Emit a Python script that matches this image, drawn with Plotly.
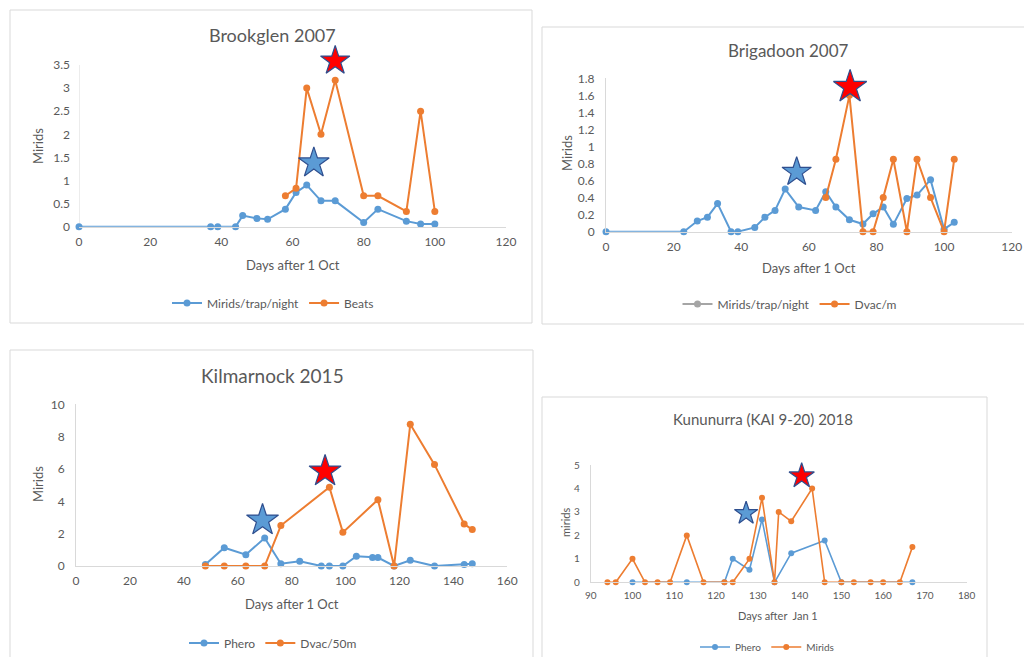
import plotly.graph_objects as go

W, H = 1024, 657

BLUE = "#5B9BD5"
ORANGE = "#ED7D31"
GRAY = "#A5A5A5"
RED = "#FF0000"
STAR_EDGE = "#2F4F8F"
TEXT = "#595959"
AXIS = "#D9D9D9"
FONT = "Lato"

# ---- Brookglen 2007 ----
bg_trap_days = [0, 37, 39, 44, 46, 50, 53, 58, 61, 64, 68, 72, 80, 84, 92, 96, 100]
bg_trap = [0, 0, 0, 0, 0.24, 0.18, 0.16, 0.38, 0.74, 0.90, 0.56, 0.56, 0.09, 0.38, 0.12, 0.06, 0.06]
bg_beat_days = [58, 61, 64, 68, 72, 80, 84, 92, 96, 100]
bg_beats = [0.67, 0.83, 3.0, 2.0, 3.17, 0.67, 0.67, 0.33, 2.5, 0.33]
bg_star_days = [66, 72]
bg_star_vals = [1.38, 3.59]

# ---- Brigadoon 2007 ----
bd_trap_days = [0, 23, 27, 30, 33, 37, 39, 44, 47, 50, 53, 57, 62, 65, 68, 72, 76, 79, 82, 85,
                89, 92, 96, 100, 103]
bd_trap = [0, 0, 0.125, 0.17, 0.33, 0, 0, 0.05, 0.17, 0.25, 0.5, 0.29, 0.25, 0.47, 0.29, 0.14,
           0.09, 0.21, 0.29, 0.086, 0.39, 0.43, 0.61, 0.03, 0.11]
bd_dvac_days = [65, 68, 72, 76, 79, 82, 85, 89, 92, 96, 100, 103]
bd_dvac = [0.4, 0.85, 1.6, 0, 0, 0.4, 0.85, 0, 0.85, 0.4, 0, 0.85]
bd_star_days = [56.4, 72.2]
bd_star_vals = [0.70, 1.70]

# ---- Kilmarnock 2015 ----
km_phero_days = [48, 55, 63, 70, 76, 83, 91, 94, 99, 104, 110, 112, 118, 124, 133, 144, 147]
km_phero = [0.1, 1.13, 0.7, 1.73, 0.14, 0.29, 0, 0, 0, 0.6, 0.52, 0.52, 0, 0.35, 0, 0.1, 0.14]
km_dvac_days = [48, 55, 63, 70, 76, 94, 99, 112, 118, 124, 133, 144, 147]
km_dvac = [0, 0, 0, 0, 2.5, 4.87, 2.08, 4.1, 0, 8.76, 6.27, 2.6, 2.25]
km_star_days = [69.2, 92.4]
km_star_vals = [2.83, 5.86]

# ---- Kununurra (KAI 9-20) 2018 ----
kn_phero_days = [100, 113, 122, 124, 128, 131, 134, 138, 146, 150, 167]
kn_phero = [0, 0, 0, 1.0, 0.53, 2.68, 0, 1.24, 1.78, 0, 0]
kn_mirid_days = [94, 96, 100, 103, 106, 109, 113, 117, 122, 124, 128, 131, 134, 135, 138, 143,
                 146, 150, 153, 157, 160, 164, 167]
kn_mirids = [0, 0, 1, 0, 0, 0, 2, 0, 0, 0, 1, 3.6, 0, 3.0, 2.6, 4.0, 0, 0, 0, 0, 0, 0, 1.5]
kn_star_days = [127.2, 140.5]
kn_star_vals = [2.94, 4.53]


def px_x(p):
    return p / W


def px_y(p):
    return 1 - p / H


fig = go.Figure()


def line_trace(x, y, color, name, idx, legend, showlegend=True, msize=7, lw=2):
    sfx = "" if idx == 1 else str(idx)
    fig.add_trace(go.Scatter(
        x=x, y=y, mode="lines+markers", name=name,
        line=dict(color=color, width=lw),
        marker=dict(color=color, size=msize),
        xaxis="x" + sfx, yaxis="y" + sfx,
        legend=legend, showlegend=showlegend, cliponaxis=False,
    ))


def star_trace(x, y, idx, sizes):
    sfx = "" if idx == 1 else str(idx)
    fig.add_trace(go.Scatter(
        x=x, y=y, mode="markers", showlegend=False,
        marker=dict(symbol="star", size=sizes, color=[BLUE, RED], opacity=1,
                    line=dict(color=STAR_EDGE, width=1.2)),
        xaxis="x" + sfx, yaxis="y" + sfx, cliponaxis=False,
    ))


# panel 1
line_trace(bg_trap_days, bg_trap, BLUE, "Mirids/trap/night", 1, "legend")
line_trace(bg_beat_days, bg_beats, ORANGE, "Beats", 1, "legend")
star_trace(bg_star_days, bg_star_vals, 1, [23, 22])

# panel 2 (legend entry for trap series is drawn in gray)
line_trace(bd_trap_days, bd_trap, BLUE, "Mirids/trap/night", 2, "legend2", showlegend=False)
fig.add_trace(go.Scatter(x=[None], y=[None], mode="lines+markers", name="Mirids/trap/night",
                         line=dict(color=GRAY, width=2), marker=dict(color=GRAY, size=7),
                         xaxis="x2", yaxis="y2", legend="legend2"))
line_trace(bd_dvac_days, bd_dvac, ORANGE, "Dvac/m", 2, "legend2")
star_trace(bd_star_days, bd_star_vals, 2, [22, 25])

# panel 3
line_trace(km_phero_days, km_phero, BLUE, "Phero", 3, "legend3")
line_trace(km_dvac_days, km_dvac, ORANGE, "Dvac/50m", 3, "legend3")
star_trace(km_star_days, km_star_vals, 3, [24, 24])

# panel 4
line_trace(kn_phero_days, kn_phero, BLUE, "Phero", 4, "legend4", msize=6, lw=1.6)
line_trace(kn_mirid_days, kn_mirids, ORANGE, "Mirids", 4, "legend4", msize=6, lw=1.6)
star_trace(kn_star_days, kn_star_vals, 4, [17.5, 19])


def axes(idx, x0, x1, xr, xd, y0, y1, yr, yd, fsize=12, yline=True):
    sfx = "" if idx == 1 else str(idx)
    common = dict(showgrid=False, zeroline=False, linecolor=AXIS, linewidth=1, automargin=False,
                  ticks="", tickfont=dict(family=FONT, size=fsize, color=TEXT), fixedrange=True)
    fig.update_layout(**{
        "xaxis" + sfx: dict(domain=[px_x(x0), px_x(x1)], range=xr, dtick=xd, tick0=xr[0],
                            anchor="y" + sfx, ticklabelstandoff=4, showline=True, **common),
        "yaxis" + sfx: dict(domain=[px_y(y0), px_y(y1)], range=yr, dtick=yd, tick0=0,
                            anchor="x" + sfx, ticklabelstandoff=8, showline=yline, **common),
    })


# Brookglen: value axis runs a little above 3.5 so the top star stays visible
axes(1, 79, 506, [0, 120], 20, 226.7, 226.7 - 3.75 * (161.7 / 3.5), [0, 3.75], 0.5, yline=False)
axes(2, 606, 1011.7, [0, 120], 20, 231.7, 78.3, [0, 1.8], 0.2)
axes(3, 76, 507.3, [0, 160], 20, 566, 404.3, [0, 10], 2)
axes(4, 590.7, 966.7, [90, 180], 10, 582.3, 465, [0, 5], 1, fsize=10)

# panel frames
frames = [(10, 532, 10, 323), (542, 1040, 27, 324), (10, 533, 350, 680), (542, 987, 397, 680)]
shapes = []
for x0, x1, y0, y1 in frames:
    shapes.append(dict(type="rect", xref="paper", yref="paper",
                       x0=px_x(x0), x1=px_x(x1), y0=px_y(y1), y1=px_y(y0),
                       line=dict(color=AXIS, width=1), fillcolor="rgba(0,0,0,0)", layer="below"))
# Brookglen value-axis line, ending at the top tick
shapes.append(dict(type="line", xref="x", yref="y", x0=0, x1=0, y0=0, y1=3.5,
                   line=dict(color=AXIS, width=1), layer="below"))

annotations = []


def label(text, x, y, size, angle=0):
    annotations.append(dict(text=text, x=px_x(x), y=px_y(y), xref="paper", yref="paper",
                            showarrow=False, xanchor="center", yanchor="middle", textangle=angle,
                            font=dict(family=FONT, size=size, color=TEXT)))


label("Brookglen 2007", 272, 35, 18)
label("Days after 1 Oct", 293, 265, 13)
label("Mirids", 38, 146, 13, -90)

label("Brigadoon 2007", 788, 50, 17)
label("Days after 1 Oct", 809, 268, 13)
label("Mirids", 567, 153, 13, -90)

label("Kilmarnock 2015", 272, 375, 19)
label("Days after 1 Oct", 292, 604, 13)
label("Mirids", 38, 484, 13, -90)

label("Kununurra (KAI 9-20) 2018", 763, 419, 15)
label("Days after \u00a0Jan 1", 778, 615, 11)
label("mirids", 565, 523, 11, -90)


def legend_cfg(x, y, size):
    return dict(x=px_x(x), y=px_y(y), xanchor="center", yanchor="middle", orientation="h",
                font=dict(family=FONT, size=size, color=TEXT), bgcolor="rgba(0,0,0,0)",
                itemwidth=30, tracegroupgap=0)


fig.update_layout(
    width=W, height=H, autosize=False,
    margin=dict(l=0, r=0, t=0, b=0, pad=0, autoexpand=False),
    paper_bgcolor="white", plot_bgcolor="white",
    shapes=shapes, annotations=annotations,
    legend=legend_cfg(273, 303, 12),
    legend2=legend_cfg(790, 304, 12),
    legend3=legend_cfg(273, 643, 12),
    legend4=legend_cfg(767, 647, 10),
)

fig.write_html("out.html")
